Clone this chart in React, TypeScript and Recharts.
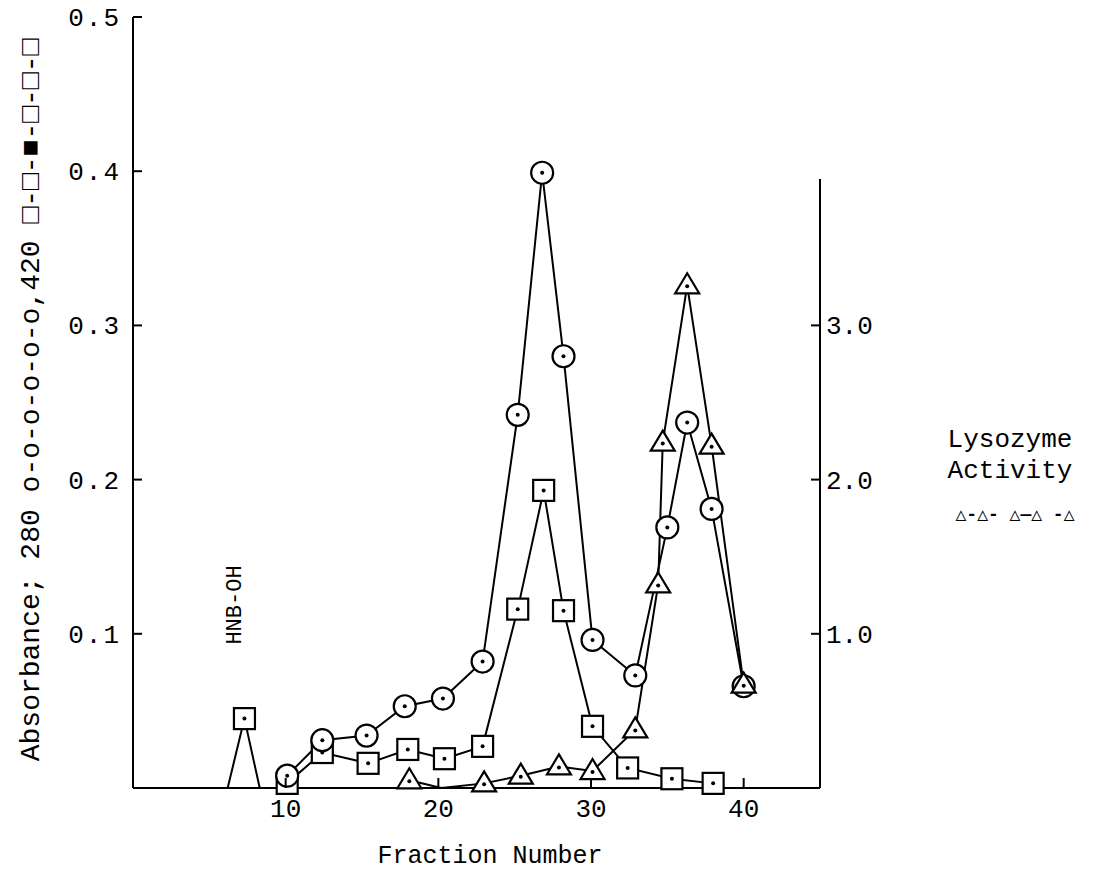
import React from 'react';
import { ComposedChart, Line, XAxis, YAxis, ReferenceLine } from 'recharts';

// Fraction number / absorbance
const circleX = [10.1, 12.4, 15.3, 17.8, 20.3, 22.9, 25.2, 26.8, 28.2, 30.1, 32.9, 35.0, 36.3, 37.9, 40.0];
const circleY = [0.008, 0.031, 0.034, 0.053, 0.058, 0.082, 0.242, 0.399, 0.28, 0.096, 0.073, 0.169, 0.237, 0.181, 0.066];

const squareX = [10.1, 12.4, 15.4, 18.0, 20.4, 22.9, 25.2, 26.9, 28.2, 30.1, 32.4, 35.3, 38.0];
const squareY = [0.003, 0.023, 0.016, 0.025, 0.019, 0.027, 0.116, 0.193, 0.115, 0.04, 0.013, 0.006, 0.003];

// HNB-OH peak
const hnbX = [6.2, 7.3, 8.3];
const hnbY = [0, 0.045, 0];

// lysozyme activity (right axis)
const triX = [18.1, 20.2, 23.0, 25.4, 27.9, 30.1, 32.9, 34.4, 34.7, 36.3, 37.9, 40.0];
const triY = [0.05, 0, 0.03, 0.08, 0.14, 0.11, 0.38, 1.32, 2.24, 3.26, 2.22, 0.67];

const xTicks = [10, 20, 30, 40];
const leftTicks = [0.1, 0.2, 0.3, 0.4, 0.5];
const rightTicks = [1, 2, 3];

const zip = (xs: number[], ys: number[]) => xs.map((x, i) => ({ x, y: ys[i] }));
const circleData = zip(circleX, circleY);
const squareData = zip(squareX, squareY);
const hnbData = zip(hnbX, hnbY);
const triData = zip(triX, triY);

const FONT = '"Liberation Mono", "DejaVu Sans Mono", monospace';
const MARGIN = 12;

const CircleDot = (p: any) => {
  const { cx, cy, index } = p;
  return (
    <g key={`c-${index}`}>
      <circle cx={cx} cy={cy} r={11} fill="#fff" stroke="#000" strokeWidth={2.2} />
      <circle cx={cx} cy={cy} r={2} fill="#000" />
    </g>
  );
};

const SquareDot = (p: any) => {
  const { cx, cy, index } = p;
  return (
    <g key={`s-${index}`}>
      <rect x={cx - 10.5} y={cy - 10.5} width={21} height={21} fill="#fff" stroke="#000" strokeWidth={2.2} />
      <circle cx={cx} cy={cy} r={2} fill="#000" />
    </g>
  );
};

const HnbDot = (p: any) => {
  if (p.index !== 1) return <g key={`h-${p.index}`} />;
  return SquareDot(p);
};

const TriDot = (p: any) => {
  const { cx, cy, index, payload } = p;
  if (!payload || payload.y === 0) return <g key={`t-${index}`} />;
  return (
    <g key={`t-${index}`}>
      <path d={`M${cx},${cy - 12} L${cx + 12},${cy + 8} L${cx - 12},${cy + 8} Z`} fill="#fff" stroke="#000" strokeWidth={2.2} />
      <circle cx={cx} cy={cy + 1} r={2} fill="#000" />
    </g>
  );
};

const LeftTick = (p: any) => {
  const { x, y, payload } = p;
  return (
    <g>
      <line x1={x + MARGIN} x2={x + MARGIN + 9} y1={y} y2={y} stroke="#000" strokeWidth={2} />
      <text x={x} y={y} dy={9} textAnchor="end" fontFamily={FONT} fontSize={26} letterSpacing={2} fill="#000">
        {payload.value.toFixed(1)}
      </text>
    </g>
  );
};

const RightTick = (p: any) => {
  const { x, y, payload } = p;
  return (
    <g>
      <line x1={x - MARGIN} x2={x - MARGIN - 9} y1={y} y2={y} stroke="#000" strokeWidth={2} />
      <text x={x - MARGIN + 6} y={y} dy={9} textAnchor="start" fontFamily={FONT} fontSize={26} fill="#000">
        {payload.value.toFixed(1)}
      </text>
    </g>
  );
};

const BottomTick = (p: any) => {
  const { x, y, payload } = p;
  return (
    <g>
      <line x1={x} x2={x} y1={y - MARGIN} y2={y - MARGIN - 10} stroke="#000" strokeWidth={2} />
      <text x={x} y={y} dy={17} textAnchor="middle" fontFamily={FONT} fontSize={26} fill="#000">
        {payload.value}
      </text>
    </g>
  );
};

const txt: React.CSSProperties = {
  position: 'absolute',
  fontFamily: FONT,
  fontSize: 24,
  color: '#000',
  whiteSpace: 'nowrap',
  transform: 'translate(-50%, -50%)',
  lineHeight: 1,
};

export default function App() {
  return (
    <div style={{ position: 'absolute', left: 0, top: 0, width: 1108, height: 890, background: '#fff' }}>
      <ComposedChart width={1108} height={890} margin={{ top: 17, right: 208, bottom: 62, left: 53 }}>
        <XAxis
          dataKey="x"
          type="number"
          domain={[0, 45]}
          ticks={xTicks}
          height={40}
          tickSize={0}
          tickMargin={MARGIN}
          tick={BottomTick}
          axisLine={{ stroke: '#000', strokeWidth: 2 }}
          allowDataOverflow
        />
        <YAxis
          yAxisId="l"
          domain={[0, 0.5]}
          ticks={leftTicks}
          width={80}
          tickSize={0}
          tickMargin={MARGIN}
          tick={LeftTick}
          axisLine={{ stroke: '#000', strokeWidth: 2 }}
        />
        <YAxis
          yAxisId="r"
          orientation="right"
          domain={[0, 5]}
          ticks={rightTicks}
          width={80}
          tickSize={0}
          tickMargin={MARGIN}
          tick={RightTick}
          axisLine={false}
        />
        <ReferenceLine
          yAxisId="r"
          segment={[{ x: 45, y: 0 }, { x: 45, y: 3.95 }]}
          stroke="#000"
          strokeWidth={2}
          ifOverflow="visible"
        />
        <Line yAxisId="l" data={hnbData} dataKey="y" stroke="#000" strokeWidth={2} dot={HnbDot} isAnimationActive={false} />
        <Line yAxisId="l" data={squareData} dataKey="y" stroke="#000" strokeWidth={2} dot={SquareDot} isAnimationActive={false} />
        <Line yAxisId="l" data={circleData} dataKey="y" stroke="#000" strokeWidth={2} dot={CircleDot} isAnimationActive={false} />
        <Line yAxisId="r" data={triData} dataKey="y" stroke="#000" strokeWidth={2} dot={TriDot} isAnimationActive={false} />
      </ComposedChart>

      <div style={{ ...txt, left: 32, top: 400, fontSize: 28, transform: 'translate(-50%, -50%) rotate(-90deg)' }}>
        Absorbance; 280 o-o-o-o-o-o,420 □-□-■-□-□-□
      </div>
      <div style={{ ...txt, left: 236, top: 605, fontSize: 22, transform: 'translate(-50%, -50%) rotate(-90deg)' }}>
        HNB-OH
      </div>
      <div style={{ ...txt, left: 490, top: 856, fontSize: 25 }}>Fraction Number</div>
      <div style={{ ...txt, left: 1010, top: 440, fontSize: 26 }}>Lysozyme</div>
      <div style={{ ...txt, left: 1010, top: 471, fontSize: 26 }}>Activity</div>
      <div style={{ ...txt, left: 1015, top: 515, fontSize: 18, fontWeight: 'bold' }}>△-△- △—△ -△</div>
    </div>
  );
}
